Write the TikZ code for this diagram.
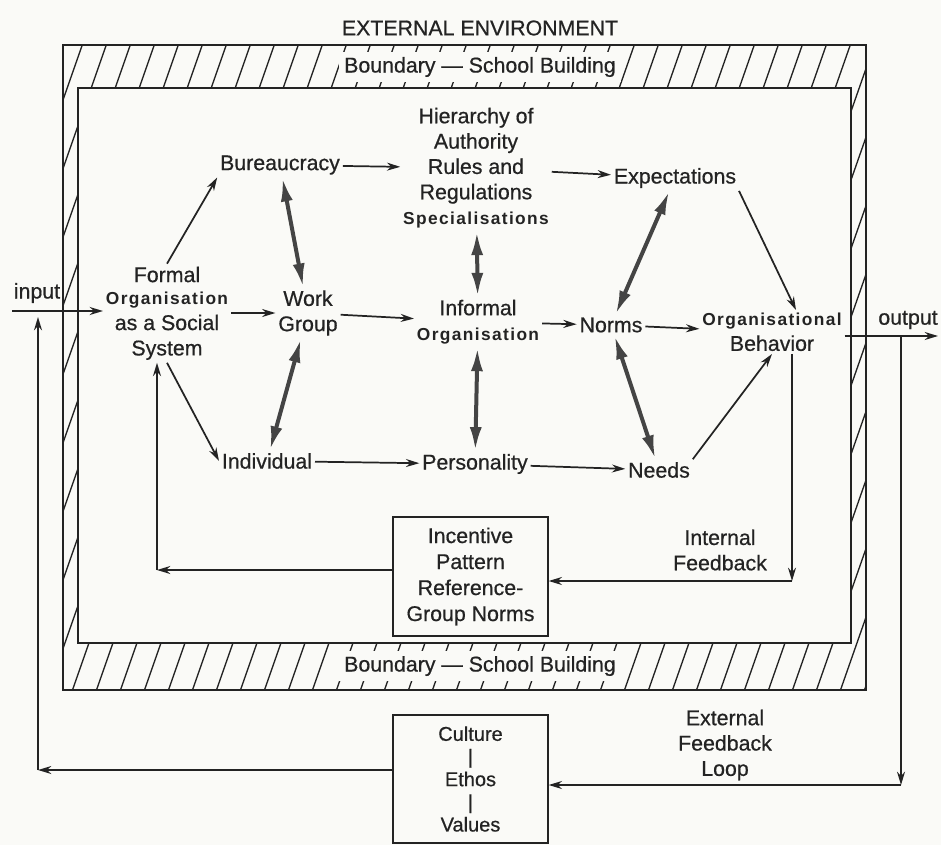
\documentclass[tikz,border=0pt]{standalone}
\usepackage{fontspec}
\setmainfont[FakeBold=0.6]{Liberation Sans}
\newfontfamily\spacedbf[LetterSpace=8]{Liberation Sans}
\usetikzlibrary{arrows.meta,positioning,calc}

\definecolor{ink}{RGB}{35,35,35}
\definecolor{paper}{RGB}{250,250,247}
\newcommand{\bt}[1]{{\spacedbf\bfseries\fontsize{13}{19}\selectfont #1}}

\begin{document}
\begin{tikzpicture}[
  x=0.75pt, y=-0.75pt,
  txt/.style={font=\fontsize{16}{19}\selectfont, text=ink, align=center, inner sep=2pt},
  box/.style={txt, draw=ink, line width=1.2pt, minimum width=116pt},
  arr/.style={draw=ink, line width=1.3pt, -{Stealth[length=10pt,width=6pt]}},
  dbl/.style={draw=ink!85, line width=3pt, {Latex[length=18pt,width=9pt]}-{Latex[length=18pt,width=9pt]}},
  wall/.style={draw=ink, line width=1.3pt}
  ]
  \useasboundingbox (0,0) rectangle (941,845);
  \fill[paper] (0,0) rectangle (941,845);

  % boundary wall with hatching
  \begin{scope}[even odd rule]
    \clip (63,45) rectangle (866,690) (78,88) rectangle (851,643);
    \foreach \c in {60,84,...,1130}
      \draw[ink, line width=1pt] (\c,40) -- ({\c-0.35*660},700);
  \end{scope}
  \draw[wall] (63,45) rectangle (866,690);
  \draw[wall] (78,88) rectangle (851,643);

  \node[txt] (env) at (480,28) {EXTERNAL ENVIRONMENT};
  \node[txt, fill=paper, inner sep=4pt] (btop) at (480,67) {Boundary --- School Building};
  \node[txt, fill=paper, inner sep=4pt] (bbot) at (480,666) {Boundary --- School Building};

  % nodes
  \node[txt] (org) at (167,326) {\bt{Organisation}\\as a Social\\System};
  \node[txt, above=3pt of org] (formal) {Formal};
  \node[txt] (bur) at (280,165) {Bureaucracy};
  \node[txt] (wg) at (308,313) {Work\\Group};
  \node[txt] (ind) at (267,461) {Individual};
  \node[txt] (hier) at (476,168) {Hierarchy of\\Authority\\Rules and\\Regulations\\\bt{Specialisations}};
  \node[txt] (inf) at (478,322) {Informal\\\bt{Organisation}};
  \node[txt] (per) at (475,464) {Personality};
  \node[txt] (exp) at (675,178) {Expectations};
  \node[txt] (norms) at (611,325) {Norms};
  \node[txt] (needs) at (659,470) {Needs};
  \node[txt] (beh) at (772,332) {\bt{Organisational}\\Behavior};
  \node[box, minimum height=89pt, font=\fontsize{16}{19.5}\selectfont] (inc) at (470.5,576.5)
    {Incentive\\Pattern\\Reference-\\Group Norms};
  \node[txt] (intfb) at (720,550) {Internal\\Feedback};
  \node[box, minimum height=96pt, font=\fontsize{15}{17}\selectfont] (cult) at (470.5,779)
    {Culture\\|\\Ethos\\|\\Values};
  \node[txt] (extfb) at (725,745) {External\\Feedback\\Loop};
  \node[txt] (input) at (37,293) {input};
  \node[txt] (output) at (908,320) {output};

  \coordinate (istart) at (12,311);
  \coordinate (ibot) at (38,770);
  \coordinate (iup) at (38,317);
  \coordinate (oend) at (938,336);
  \coordinate (oturn) at (901,336);
  \coordinate (obot) at (901,785);
  \coordinate (fbot) at (792,581);
  \coordinate (fleft) at (157,570);

  % flows
  \draw[arr] (formal.north) -- (bur.south west);
  \draw[arr] (org.east |- wg.west) -- (wg.west);
  \draw[arr] (org.south) -- (ind.west);
  \draw[arr] (bur) -- (hier);
  \draw[arr] (wg) -- (inf);
  \draw[arr] (ind) -- (per);
  \draw[arr] (hier) -- (exp);
  \draw[arr] (inf) -- (norms);
  \draw[arr] (per) -- (needs);
  \draw[arr] (exp.south east) -- ([xshift=18pt]beh.north);
  \draw[arr] (norms) -- (beh);
  \draw[arr] (needs.north east) -- (beh.south);

  \draw[dbl] (bur) -- (wg);
  \draw[dbl] (wg) -- (ind);
  \draw[dbl] (hier) -- (inf);
  \draw[dbl] (inf) -- (per);
  \draw[dbl] (exp) -- (norms);
  \draw[dbl] (norms) -- (needs);

  % input, output and feedback loops
  \draw[arr] (istart) -- (org.west |- istart);
  \draw[arr] (beh.east |- oend) -- (oend);
  \draw[arr] (oturn) -- (obot);
  \draw[arr] (obot) -- (cult.east |- obot);
  \draw[arr] (cult.west |- ibot) -- (ibot);
  \draw[arr] (ibot) -- (iup);
  \draw[arr] (beh.south -| fbot) -- (fbot);
  \draw[arr] (fbot) -- (inc.east |- fbot);
  \draw[arr] (inc.west |- fleft) -- (fleft);
  \draw[arr] (fleft) -- (fleft |- org.south);
\end{tikzpicture}
\end{document}
